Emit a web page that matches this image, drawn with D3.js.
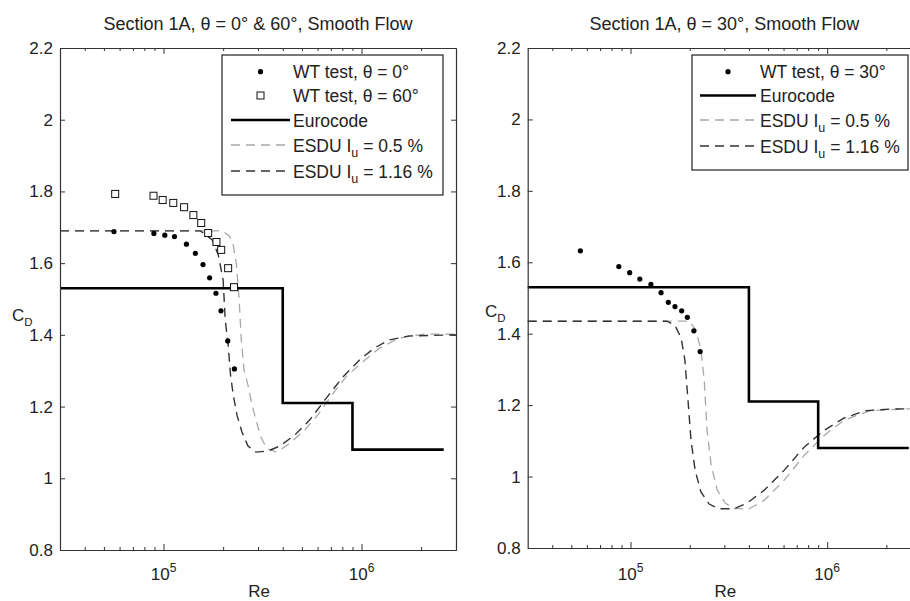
<!DOCTYPE html>
<html>
<head>
<meta charset="utf-8">
<script src="https://cdn.jsdelivr.net/npm/d3@7"></script>
<style>
  body { margin: 0; background: #fff; }
  svg { display: block; font-family: "Liberation Sans", Arial, Helvetica, sans-serif; }
</style>
</head>
<body>
<svg id="chart" width="910" height="601"></svg>
<script>
// ---------------- DATA ----------------
const yTicks = [0.8, 1.0, 1.2, 1.4, 1.6, 1.8, 2.0, 2.2];
const xMajorTicks = [1e5, 1e6];
const xMajorExp = ["5", "6"];
const xMinorTicks = [4e4, 5e4, 6e4, 7e4, 8e4, 9e4, 2e5, 3e5, 4e5, 5e5, 6e5, 7e5, 8e5, 9e5, 2e6];

// Left panel: theta = 0 deg (dots)
const reTheta0 = [5.62e4, 8.94e4, 1.015e5, 1.136e5, 1.305e5, 1.448e5, 1.583e5, 1.709e5, 1.84e5, 1.95e5, 2.11e5, 2.28e5];
const cdTheta0 = [1.688, 1.683, 1.678, 1.674, 1.653, 1.627, 1.596, 1.559, 1.516, 1.467, 1.383, 1.305];
// Left panel: theta = 60 deg (squares)
const reTheta60 = [5.7e4, 8.9e4, 9.9e4, 1.12e5, 1.27e5, 1.415e5, 1.55e5, 1.68e5, 1.85e5, 1.955e5, 2.12e5, 2.27e5];
const cdTheta60 = [1.793, 1.788, 1.776, 1.768, 1.756, 1.734, 1.712, 1.684, 1.659, 1.637, 1.586, 1.533];
// Right panel: theta = 30 deg (dots)
const reTheta30 = [5.56e4, 8.72e4, 9.9e4, 1.115e5, 1.27e5, 1.43e5, 1.557e5, 1.683e5, 1.82e5, 1.945e5, 2.1e5, 2.26e5];
const cdTheta30 = [1.632, 1.588, 1.571, 1.553, 1.538, 1.515, 1.488, 1.476, 1.464, 1.446, 1.408, 1.35];

// Eurocode (both panels)
const eurocodeRe = [3e4, 4e5, 4e5, 9e5, 9e5, 2.6e6];
const eurocodeCd = [1.53, 1.53, 1.21, 1.21, 1.08, 1.08];

// ESDU, left panel
const esduLowLeftRe = [3e4, 1.98e5, 2.15e5, 2.25e5, 2.33e5, 2.41e5, 2.47e5, 2.55e5, 2.67e5, 2.8e5, 2.93e5, 3.1e5, 3.33e5, 3.74e5, 4.35e5, 5.17e5, 6.01e5, 7.07e5, 8.41e5, 1.01e6, 1.23e6, 1.55e6, 2.07e6, 3e6];
const esduLowLeftCd = [1.69, 1.69, 1.676, 1.65, 1.60, 1.497, 1.386, 1.302, 1.26, 1.204, 1.163, 1.115, 1.082, 1.073, 1.098, 1.135, 1.176, 1.232, 1.285, 1.324, 1.363, 1.391, 1.402, 1.402];
const esduHighLeftRe = [3e4, 1.535e5, 1.763e5, 1.89e5, 2.0e5, 2.05e5, 2.12e5, 2.18e5, 2.25e5, 2.35e5, 2.49e5, 2.67e5, 2.93e5, 3.37e5, 3.87e5, 4.61e5, 5.48e5, 6.52e5, 8.03e5, 9.77e5, 1.16e6, 1.38e6, 1.74e6, 3e6];
const esduHighLeftCd = [1.69, 1.69, 1.665, 1.623, 1.553, 1.441, 1.372, 1.288, 1.232, 1.176, 1.129, 1.090, 1.073, 1.076, 1.090, 1.121, 1.163, 1.218, 1.282, 1.330, 1.363, 1.386, 1.397, 1.40];

// ESDU, right panel
const esduLowRightRe = [3e4, 1.99e5, 2.15e5, 2.28e5, 2.37e5, 2.45e5, 2.57e5, 2.76e5, 3.03e5, 3.36e5, 4.02e5, 4.79e5, 6.05e5, 7.66e5, 9.68e5, 1.22e6, 1.64e6, 2.34e6, 3e6];
const esduLowRightCd = [1.435, 1.435, 1.41, 1.354, 1.27, 1.13, 1.032, 0.962, 0.926, 0.91, 0.91, 0.934, 0.99, 1.06, 1.116, 1.158, 1.184, 1.189, 1.19];
const esduHighRightRe = [3e4, 1.53e5, 1.68e5, 1.81e5, 1.89e5, 1.96e5, 2.03e5, 2.13e5, 2.28e5, 2.51e5, 2.82e5, 3.36e5, 3.92e5, 4.79e5, 6.05e5, 7.66e5, 9.68e5, 1.22e6, 1.55e6, 2.08e6, 3e6];
const esduHighRightCd = [1.435, 1.435, 1.424, 1.388, 1.326, 1.214, 1.102, 1.018, 0.957, 0.923, 0.91, 0.91, 0.926, 0.962, 1.018, 1.083, 1.13, 1.164, 1.184, 1.189, 1.19];

// ---------------- DRAW ----------------
const svg = d3.select("#chart");
const zip = (a, b) => a.map((v, i) => [v, b[i]]);

const COL_EURO = "#000";
const COL_HIGH = "#333";
const COL_LOW = "#a8a8a8";
const TXT = "#222";
const DASH = "9,6";

const panels = [
  {
    x0: 60, x1: 456, yTop: 48, yBot: 550,
    title: "Section 1A, \u03b8 = 0\u00b0 & 60\u00b0, Smooth Flow",
    dots: zip(reTheta0, cdTheta0), squares: zip(reTheta60, cdTheta60),
    esduLow: zip(esduLowLeftRe, esduLowLeftCd), esduHigh: zip(esduHighLeftRe, esduHighLeftCd),
    ylabelX: 12, ylabelY: 321,
    legend: { x: 222, y: 55, w: 221, h: 140, sx0: 231, sx1: 290, tx: 293,
      rows: [
        { type: "dot", label: "WT test, \u03b8 = 0\u00b0", y: 71.7 },
        { type: "square", label: "WT test, \u03b8 = 60\u00b0", y: 95.5 },
        { type: "euro", label: "Eurocode", y: 120 },
        { type: "low", label: "0.5 %", y: 145 },
        { type: "high", label: "1.16 %", y: 171 }
      ] }
  },
  {
    x0: 527.7, x1: 921, yTop: 48, yBot: 548,
    title: "Section 1A, \u03b8 = 30\u00b0, Smooth Flow",
    dots: zip(reTheta30, cdTheta30), squares: [],
    esduLow: zip(esduLowRightRe, esduLowRightCd), esduHigh: zip(esduHighRightRe, esduHighRightCd),
    ylabelX: 485, ylabelY: 317,
    legend: { x: 692, y: 55, w: 216, h: 115, sx0: 700, sx1: 756, tx: 760,
      rows: [
        { type: "dot", label: "WT test, \u03b8 = 30\u00b0", y: 71.7 },
        { type: "euro", label: "Eurocode", y: 95.5 },
        { type: "low", label: "0.5 %", y: 120 },
        { type: "high", label: "1.16 %", y: 146 }
      ] }
  }
];

panels.forEach((p) => {
  const x = d3.scaleLog().domain([3e4, 3e6]).range([p.x0, p.x1]);
  const y = d3.scaleLinear().domain([0.8, 2.2]).range([p.yBot, p.yTop]);
  const g = svg.append("g");

  // title
  g.append("text").attr("x", (p.x0 + p.x1) / 2).attr("y", 30)
    .attr("text-anchor", "middle").attr("font-size", 18).attr("fill", TXT)
    .text(p.title);

  const line = d3.line().x(d => x(d[0])).y(d => y(d[1]));

  // ESDU curves
  g.append("path").datum(p.esduLow).attr("d", line)
    .attr("fill", "none").attr("stroke", COL_LOW).attr("stroke-width", 1.3).attr("stroke-dasharray", DASH);
  g.append("path").datum(p.esduHigh).attr("d", line)
    .attr("fill", "none").attr("stroke", COL_HIGH).attr("stroke-width", 1.4).attr("stroke-dasharray", DASH);

  // Eurocode
  g.append("path").datum(zip(eurocodeRe, eurocodeCd)).attr("d", line)
    .attr("fill", "none").attr("stroke", COL_EURO).attr("stroke-width", 2.6);

  // squares
  g.selectAll(".sq").data(p.squares).join("rect")
    .attr("x", d => x(d[0]) - 3.5).attr("y", d => y(d[1]) - 3.5)
    .attr("width", 7).attr("height", 7)
    .attr("fill", "#fff").attr("stroke", "#111").attr("stroke-width", 1);
  // dots
  g.selectAll(".dot").data(p.dots).join("circle")
    .attr("cx", d => x(d[0])).attr("cy", d => y(d[1])).attr("r", 2.6).attr("fill", "#000");

  // axes (box with inward ticks)
  const axisStyle = sel => {
    sel.select(".domain").attr("stroke", "#333").attr("stroke-width", 1.2);
    sel.selectAll(".tick line").attr("stroke", "#333").attr("stroke-width", 1);
  };
  const left = g.append("g").attr("transform", `translate(${p.x0},0)`)
    .call(d3.axisLeft(y).tickValues(yTicks).tickSize(-5).tickPadding(7).tickSizeOuter(0)
      .tickFormat(d => String(+d.toFixed(1))));
  left.call(axisStyle);
  left.selectAll(".tick text").attr("font-size", 17).attr("fill", TXT)
    .attr("font-family", "Liberation Sans, Arial, sans-serif");
  const right = g.append("g").attr("transform", `translate(${p.x1},0)`)
    .call(d3.axisRight(y).tickValues(yTicks).tickSize(-5).tickSizeOuter(0).tickFormat(""));
  right.call(axisStyle);

  [[p.yBot, d3.axisBottom], [p.yTop, d3.axisTop]].forEach(([yy, ax]) => {
    const maj = g.append("g").attr("transform", `translate(0,${yy})`)
      .call(ax(x).tickValues(xMajorTicks).tickSize(-6).tickSizeOuter(0).tickFormat(""));
    maj.call(axisStyle);
    const mn = g.append("g").attr("transform", `translate(0,${yy})`)
      .call(ax(x).tickValues(xMinorTicks).tickSize(-3).tickSizeOuter(0).tickFormat(""));
    mn.call(axisStyle);
  });

  // x tick labels 10^n
  xMajorTicks.forEach((v, i) => {
    const t = g.append("text").attr("x", x(v)).attr("y", 580).attr("text-anchor", "middle")
      .attr("font-size", 17).attr("fill", TXT);
    t.append("tspan").attr("fill", TXT).text("10");
    t.append("tspan").attr("dy", -8).attr("font-size", 12).attr("fill", TXT).text(xMajorExp[i]);
  });

  // axis labels
  g.append("text").attr("x", (p.x0 + p.x1) / 2 + 1).attr("y", 597).attr("text-anchor", "middle")
    .attr("font-size", 17).attr("fill", TXT).text("Re");
  const yl = g.append("text").attr("x", p.ylabelX).attr("y", p.ylabelY)
    .attr("font-size", 17).attr("fill", TXT);
  yl.append("tspan").attr("fill", TXT).text("C");
  yl.append("tspan").attr("dy", 5).attr("font-size", 11.5).attr("fill", TXT).text("D");

  // legend
  const L = p.legend;
  const lg = g.append("g");
  lg.append("rect").attr("x", L.x).attr("y", L.y).attr("width", L.w).attr("height", L.h)
    .attr("fill", "#fff").attr("stroke", "#222").attr("stroke-width", 1.2);
  L.rows.forEach(r => {
    const cx = (L.sx0 + L.sx1) / 2;
    if (r.type === "dot") {
      lg.append("circle").attr("cx", cx).attr("cy", r.y).attr("r", 2.6).attr("fill", "#000");
    } else if (r.type === "square") {
      lg.append("rect").attr("x", cx - 3.5).attr("y", r.y - 3.5).attr("width", 7).attr("height", 7)
        .attr("fill", "#fff").attr("stroke", "#111");
    } else {
      const st = r.type === "euro" ? { c: COL_EURO, w: 2.6, d: null }
        : r.type === "low" ? { c: COL_LOW, w: 1.3, d: DASH } : { c: COL_HIGH, w: 1.4, d: DASH };
      lg.append("line").attr("x1", L.sx0).attr("x2", L.sx1).attr("y1", r.y).attr("y2", r.y)
        .attr("stroke", st.c).attr("stroke-width", st.w).attr("stroke-dasharray", st.d);
    }
    const t = lg.append("text").attr("x", L.tx).attr("y", r.y + 6.5)
      .attr("font-size", 17.5).attr("fill", TXT);
    if (r.type === "low" || r.type === "high") {
      t.append("tspan").attr("fill", TXT).text("ESDU I");
      t.append("tspan").attr("dy", 5).attr("font-size", 12.5).attr("fill", TXT).text("u");
      t.append("tspan").attr("dy", -5).attr("fill", TXT).text(" = " + r.label);
    } else {
      t.text(r.label);
    }
  });
});
</script>
</body>
</html>
